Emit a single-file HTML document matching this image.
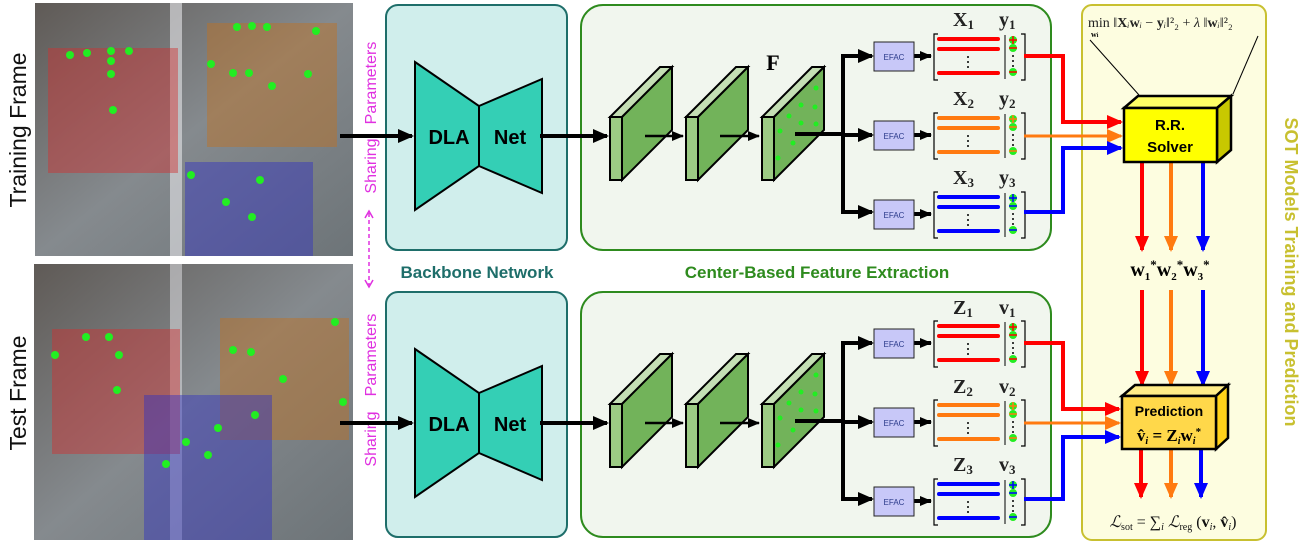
<!DOCTYPE html>
<html><head><meta charset="utf-8"><style>
html,body{margin:0;padding:0;background:#fff;}
svg{display:block;}
text{font-family:"Liberation Sans",sans-serif;}
.m,.m text,.m tspan{font-family:"Liberation Serif",serif;font-weight:bold;}
.mi,.mi tspan{font-family:"Liberation Serif",serif;}
</style></head><body>
<svg width="1304" height="547" viewBox="0 0 1304 547" xmlns="http://www.w3.org/2000/svg">
<defs>
<marker id="ab" markerWidth="16" markerHeight="14" refX="14" refY="7" orient="auto" markerUnits="userSpaceOnUse"><path d="M0,0 L16,7 L0,14 Z" fill="#000"/></marker>
<marker id="as" markerWidth="12" markerHeight="10" refX="11" refY="5" orient="auto" markerUnits="userSpaceOnUse"><path d="M0,0 L12,5 L0,10 Z" fill="#000"/></marker>
<marker id="ar" markerWidth="16" markerHeight="14" refX="14" refY="7" orient="auto" markerUnits="userSpaceOnUse"><path d="M0,0 L16,7 L0,14 Z" fill="#f00"/></marker>
<marker id="ao" markerWidth="16" markerHeight="14" refX="14" refY="7" orient="auto" markerUnits="userSpaceOnUse"><path d="M0,0 L16,7 L0,14 Z" fill="#ff7a10"/></marker>
<marker id="abl" markerWidth="16" markerHeight="14" refX="14" refY="7" orient="auto" markerUnits="userSpaceOnUse"><path d="M0,0 L16,7 L0,14 Z" fill="#0000ff"/></marker>
<linearGradient id="ph" x1="0" y1="0" x2="1" y2="1"><stop offset="0" stop-color="#5f5a56"/><stop offset="0.5" stop-color="#858a8e"/><stop offset="1" stop-color="#6d7478"/></linearGradient>
<g id="lay">
<polygon points="0,0 50,-50 62,-50 12,0" fill="#c4dfb4" stroke="#000" stroke-width="2"/>
<rect x="0" y="0" width="12" height="63" fill="#9ccb84" stroke="#000" stroke-width="2"/>
<polygon points="12,0 62,-50 62,13 12,63" fill="#72b35a" stroke="#000" stroke-width="2"/>
</g>
</defs>

<text transform="translate(26,130) rotate(-90)" text-anchor="middle" font-size="23" fill="#111">Training Frame</text>
<text transform="translate(26,393) rotate(-90)" text-anchor="middle" font-size="23" fill="#111">Test Frame</text>

<rect x="35" y="3" width="318" height="253" fill="url(#ph)"/>
<rect x="170" y="3" width="12" height="253" fill="#e6e6ea" opacity="0.6"/>
<rect x="48" y="48" width="130" height="125" fill="#d03030" opacity="0.45"/>
<rect x="207" y="23" width="130" height="124" fill="#c07020" opacity="0.45"/>
<rect x="185" y="162" width="128" height="94" fill="#3030c0" opacity="0.45"/>
<rect x="34" y="264" width="319" height="276" fill="url(#ph)"/>
<rect x="170" y="264" width="12" height="276" fill="#e6e6ea" opacity="0.5"/>
<rect x="52" y="329" width="128" height="125" fill="#d03030" opacity="0.45"/>
<rect x="220" y="318" width="129" height="122" fill="#c07020" opacity="0.45"/>
<rect x="144" y="395" width="128" height="145" fill="#3030c0" opacity="0.45"/>
<g fill="#22ee22">
<circle cx="70" cy="55" r="4"/><circle cx="87" cy="53" r="4"/><circle cx="111" cy="51" r="4"/><circle cx="111" cy="61" r="4"/><circle cx="111" cy="74" r="4"/><circle cx="129" cy="51" r="4"/><circle cx="113" cy="110" r="4"/>
<circle cx="237" cy="27" r="4"/><circle cx="252" cy="26" r="4"/><circle cx="267" cy="27" r="4"/><circle cx="316" cy="31" r="4"/><circle cx="211" cy="64" r="4"/><circle cx="233" cy="73" r="4"/><circle cx="249" cy="73" r="4"/><circle cx="272" cy="86" r="4"/><circle cx="308" cy="74" r="4"/>
<circle cx="191" cy="175" r="4"/><circle cx="260" cy="180" r="4"/><circle cx="226" cy="202" r="4"/><circle cx="252" cy="217" r="4"/>
<circle cx="55" cy="355" r="4"/><circle cx="86" cy="337" r="4"/><circle cx="109" cy="337" r="4"/><circle cx="119" cy="355" r="4"/><circle cx="117" cy="390" r="4"/>
<circle cx="335" cy="322" r="4"/><circle cx="233" cy="350" r="4"/><circle cx="251" cy="352" r="4"/><circle cx="283" cy="379" r="4"/><circle cx="343" cy="402" r="4"/><circle cx="255" cy="415" r="4"/>
<circle cx="218" cy="428" r="4"/><circle cx="186" cy="442" r="4"/><circle cx="208" cy="455" r="4"/><circle cx="166" cy="464" r="4"/>
</g>

<g font-size="16" fill="#e030e0" text-anchor="middle">
<text transform="translate(376,83) rotate(-90)">Parameters</text>
<text transform="translate(376,166) rotate(-90)">Sharing</text>
<text transform="translate(376,355) rotate(-90)">Parameters</text>
<text transform="translate(376,439) rotate(-90)">Sharing</text>
</g>
<line x1="369" y1="213" x2="369" y2="285" stroke="#e030e0" stroke-width="1.5" stroke-dasharray="4,3"/>
<path d="M365,218 L369,211 L373,218 M365,280 L369,287 L373,280" fill="none" stroke="#e030e0" stroke-width="1.5"/>

<rect x="386" y="5" width="181" height="245" rx="12" fill="#d0eeec" stroke="#1e6e6a" stroke-width="2"/>
<rect x="386" y="292" width="181" height="245" rx="12" fill="#d0eeec" stroke="#1e6e6a" stroke-width="2"/>
<text x="477" y="278" text-anchor="middle" font-size="17" font-weight="bold" fill="#1e6e6a">Backbone Network</text>
<g id="dla">
<polygon points="415,62 479,106 479,166 415,210" fill="#34cfb5" stroke="#000" stroke-width="2"/>
<polygon points="479,106 542,79 542,193 479,166" fill="#34cfb5" stroke="#000" stroke-width="2"/>
<text x="449" y="144" text-anchor="middle" font-size="20" font-weight="bold">DLA</text>
<text x="510" y="144" text-anchor="middle" font-size="20" font-weight="bold">Net</text>
</g>
<use href="#dla" transform="translate(0,287)"/>

<rect x="581" y="5" width="470" height="245" rx="22" fill="#f1f6ee" stroke="#2e8b1e" stroke-width="2"/>
<rect x="581" y="292" width="470" height="245" rx="22" fill="#f1f6ee" stroke="#2e8b1e" stroke-width="2"/>
<text x="817" y="278" text-anchor="middle" font-size="17" font-weight="bold" fill="#2e8b1e">Center-Based Feature Extraction</text>

<g stroke="#000" stroke-width="4" fill="none">
<line x1="340" y1="136" x2="412" y2="136" marker-end="url(#ab)"/>
<line x1="540" y1="136" x2="607" y2="136" marker-end="url(#ab)"/>
<line x1="340" y1="423" x2="412" y2="423" marker-end="url(#ab)"/>
<line x1="540" y1="423" x2="607" y2="423" marker-end="url(#ab)"/>
</g>

<g id="feat">
<use href="#lay" transform="translate(610,117)"/>
<use href="#lay" transform="translate(686,117)"/>
<use href="#lay" transform="translate(762,117)"/>
<g fill="#22ee22"><circle cx="816" cy="88" r="2.5"/><circle cx="801" cy="105" r="2.5"/><circle cx="815" cy="107" r="2.5"/><circle cx="789" cy="116" r="2.5"/><circle cx="801" cy="123" r="2.5"/><circle cx="816" cy="124" r="2.5"/><circle cx="780" cy="131" r="2.5"/><circle cx="793" cy="143" r="2.5"/><circle cx="778" cy="158" r="2.5"/></g>
<g stroke="#000" stroke-width="2.5" fill="none">
<line x1="645" y1="136" x2="683" y2="136" marker-end="url(#as)"/>
<line x1="720" y1="136" x2="759" y2="136" marker-end="url(#as)"/>
</g>
<g stroke="#000" stroke-width="4" fill="none">
<path d="M795,134 L843,134"/>
<path d="M843,56 L843,212"/>
<line x1="841" y1="56" x2="872" y2="56" marker-end="url(#ab)"/>
<line x1="841" y1="135" x2="872" y2="135" marker-end="url(#ab)"/>
<line x1="841" y1="212" x2="872" y2="212" marker-end="url(#ab)"/>
<line x1="914" y1="56" x2="931" y2="56" marker-end="url(#as)"/>
<line x1="914" y1="135" x2="931" y2="135" marker-end="url(#as)"/>
<line x1="914" y1="214" x2="931" y2="214" marker-end="url(#as)"/>
</g>
<g fill="#c8c8f8" stroke="#222" stroke-width="1">
<rect x="874" y="42" width="40" height="29"/><rect x="874" y="121" width="40" height="29"/><rect x="874" y="200" width="40" height="29"/>
</g>
<g font-size="8" fill="#2a3a8a" text-anchor="middle"><text x="894" y="60">EFAC</text><text x="894" y="139">EFAC</text><text x="894" y="218">EFAC</text></g>
</g>
<use href="#feat" transform="translate(0,287)"/>
<text x="773" y="70" text-anchor="middle" font-size="22" class="m">F</text>

<g font-size="20" class="m" fill="#222">
<text x="953" y="26">X<tspan font-size="13" dy="3" font-weight="normal">1</tspan></text>
<text x="999" y="26">y<tspan font-size="13" dy="3">1</tspan></text>
<text x="953" y="105">X<tspan font-size="13" dy="3" font-weight="normal">2</tspan></text>
<text x="999" y="105">y<tspan font-size="13" dy="3">2</tspan></text>
<text x="953" y="184">X<tspan font-size="13" dy="3" font-weight="normal">3</tspan></text>
<text x="999" y="184">y<tspan font-size="13" dy="3">3</tspan></text>
<text x="953" y="314">Z<tspan font-size="13" dy="3" font-weight="normal">1</tspan></text>
<text x="999" y="314">v<tspan font-size="13" dy="3">1</tspan></text>
<text x="953" y="393">Z<tspan font-size="13" dy="3" font-weight="normal">2</tspan></text>
<text x="999" y="393">v<tspan font-size="13" dy="3">2</tspan></text>
<text x="953" y="471">Z<tspan font-size="13" dy="3" font-weight="normal">3</tspan></text>
<text x="999" y="471">v<tspan font-size="13" dy="3">3</tspan></text>
</g>

<g id="m1">
<path d="M938,34 h-4 v46 h4 M1021,34 h4 v46 h-4" fill="none" stroke="#000" stroke-width="1.2"/>
<line x1="1005" y1="35" x2="1005" y2="79" stroke="#000" stroke-width="1"/>
<g stroke="#f00" stroke-width="4" stroke-linecap="round"><line x1="939" y1="39" x2="998" y2="39"/><line x1="939" y1="49" x2="998" y2="49"/><line x1="939" y1="73" x2="998" y2="73"/></g>
<g fill="#000"><circle cx="968" cy="57" r="1"/><circle cx="968" cy="62" r="1"/><circle cx="968" cy="67" r="1"/><circle cx="1013" cy="56" r="1"/><circle cx="1013" cy="61" r="1"/><circle cx="1013" cy="66" r="1"/></g>
<g fill="#22ee22"><circle cx="1013" cy="40" r="4"/><circle cx="1013" cy="48" r="4"/><circle cx="1013" cy="72" r="4"/></g>
<g stroke="#f00" stroke-width="1.5"><line x1="1009" y1="40" x2="1017" y2="40"/><line x1="1013" y1="36" x2="1013" y2="44"/><line x1="1009" y1="48" x2="1017" y2="48"/><line x1="1009" y1="72" x2="1017" y2="72"/></g>
</g>
<g id="m2" transform="translate(0,79)">
<path d="M938,34 h-4 v46 h4 M1021,34 h4 v46 h-4" fill="none" stroke="#000" stroke-width="1.2"/>
<line x1="1005" y1="35" x2="1005" y2="79" stroke="#000" stroke-width="1"/>
<g stroke="#ff7a10" stroke-width="4" stroke-linecap="round"><line x1="939" y1="39" x2="998" y2="39"/><line x1="939" y1="49" x2="998" y2="49"/><line x1="939" y1="73" x2="998" y2="73"/></g>
<g fill="#000"><circle cx="968" cy="57" r="1"/><circle cx="968" cy="62" r="1"/><circle cx="968" cy="67" r="1"/><circle cx="1013" cy="56" r="1"/><circle cx="1013" cy="61" r="1"/><circle cx="1013" cy="66" r="1"/></g>
<g fill="#22ee22"><circle cx="1013" cy="40" r="4"/><circle cx="1013" cy="48" r="4"/><circle cx="1013" cy="72" r="4"/></g>
<g stroke="#ff7a10" stroke-width="1.5"><line x1="1009" y1="40" x2="1017" y2="40"/><line x1="1013" y1="36" x2="1013" y2="44"/><line x1="1009" y1="48" x2="1017" y2="48"/><line x1="1009" y1="72" x2="1017" y2="72"/></g>
</g>
<g id="m3" transform="translate(0,158)">
<path d="M938,34 h-4 v46 h4 M1021,34 h4 v46 h-4" fill="none" stroke="#000" stroke-width="1.2"/>
<line x1="1005" y1="35" x2="1005" y2="79" stroke="#000" stroke-width="1"/>
<g stroke="#0000ff" stroke-width="4" stroke-linecap="round"><line x1="939" y1="39" x2="998" y2="39"/><line x1="939" y1="49" x2="998" y2="49"/><line x1="939" y1="73" x2="998" y2="73"/></g>
<g fill="#000"><circle cx="968" cy="57" r="1"/><circle cx="968" cy="62" r="1"/><circle cx="968" cy="67" r="1"/><circle cx="1013" cy="56" r="1"/><circle cx="1013" cy="61" r="1"/><circle cx="1013" cy="66" r="1"/></g>
<g fill="#22ee22"><circle cx="1013" cy="40" r="4"/><circle cx="1013" cy="48" r="4"/><circle cx="1013" cy="72" r="4"/></g>
<g stroke="#0000ff" stroke-width="1.5"><line x1="1009" y1="40" x2="1017" y2="40"/><line x1="1013" y1="36" x2="1013" y2="44"/><line x1="1009" y1="48" x2="1017" y2="48"/><line x1="1009" y1="72" x2="1017" y2="72"/></g>
</g>
<use href="#m1" transform="translate(0,287)"/>
<use href="#m2" transform="translate(0,287)"/>
<use href="#m3" transform="translate(0,287)"/>

<rect x="1082" y="5" width="184" height="535" rx="10" fill="#fdfde0" stroke="#c8c030" stroke-width="2"/>
<text transform="translate(1285,272) rotate(90)" text-anchor="middle" font-size="18" font-weight="bold" fill="#c8c030">SOT Models Training and Prediction</text>
<text x="1088" y="27" font-size="14" class="mi" fill="#222">min ‖<tspan font-weight="bold">X</tspan><tspan font-style="italic">ᵢ</tspan><tspan font-weight="bold">w</tspan><tspan font-style="italic">ᵢ</tspan> − <tspan font-weight="bold">y</tspan><tspan font-style="italic">ᵢ</tspan>‖²₂ + <tspan font-style="italic">λ</tspan> ‖<tspan font-weight="bold">w</tspan><tspan font-style="italic">ᵢ</tspan>‖²₂</text>
<text x="1091" y="37" font-size="8" class="m">w<tspan font-size="6">i</tspan></text>
<line x1="1090" y1="40" x2="1139" y2="95" stroke="#000" stroke-width="1"/>
<line x1="1258" y1="36" x2="1233" y2="94" stroke="#000" stroke-width="1"/>

<g fill="none" stroke-width="4">
<path d="M1024,56 H1063 V122 H1121" stroke="#f00" marker-end="url(#ar)"/>
<path d="M1024,136 H1121" stroke="#ff7a10" stroke-width="3" marker-end="url(#ao)"/>
<path d="M1024,212 H1063 V148 H1121" stroke="#0000ff" marker-end="url(#abl)"/>
<path d="M1024,343 H1063 V409 H1119" stroke="#f00" marker-end="url(#ar)"/>
<path d="M1024,423 H1119" stroke="#ff7a10" stroke-width="3" marker-end="url(#ao)"/>
<path d="M1024,499 H1063 V437 H1119" stroke="#0000ff" marker-end="url(#abl)"/>
<line x1="1142" y1="162" x2="1142" y2="250" stroke="#f00" marker-end="url(#ar)"/>
<line x1="1171" y1="162" x2="1171" y2="250" stroke="#ff7a10" marker-end="url(#ao)"/>
<line x1="1203" y1="162" x2="1203" y2="250" stroke="#0000ff" marker-end="url(#abl)"/>
<line x1="1142" y1="290" x2="1142" y2="385" stroke="#f00" marker-end="url(#ar)"/>
<line x1="1171" y1="290" x2="1171" y2="385" stroke="#ff7a10" marker-end="url(#ao)"/>
<line x1="1203" y1="290" x2="1203" y2="385" stroke="#0000ff" marker-end="url(#abl)"/>
<line x1="1141" y1="449" x2="1141" y2="497" stroke="#f00" marker-end="url(#ar)"/>
<line x1="1171" y1="449" x2="1171" y2="497" stroke="#ff7a10" marker-end="url(#ao)"/>
<line x1="1201" y1="449" x2="1201" y2="497" stroke="#0000ff" marker-end="url(#abl)"/>
</g>

<g stroke="#000" stroke-width="2.5">
<polygon points="1124,108 1138,96 1231,96 1217,108" fill="#ffff66"/>
<polygon points="1217,108 1231,96 1231,150 1217,162" fill="#c8c800"/>
<rect x="1124" y="108" width="93" height="54" fill="#ffff00"/>
</g>
<text x="1170" y="130" text-anchor="middle" font-size="15" font-weight="bold">R.R.</text>
<text x="1170" y="152" text-anchor="middle" font-size="15" font-weight="bold">Solver</text>

<text x="1170" y="276" text-anchor="middle" font-size="20" class="m">w<tspan font-size="11" dy="4">1</tspan><tspan font-size="13" dy="-11">*</tspan><tspan dy="7">w</tspan><tspan font-size="11" dy="4">2</tspan><tspan font-size="13" dy="-11">*</tspan><tspan dy="7">w</tspan><tspan font-size="11" dy="4">3</tspan><tspan font-size="13" dy="-11">*</tspan></text>

<g stroke="#000" stroke-width="2.5">
<polygon points="1122,396 1135,385 1228,385 1216,396" fill="#ffec88"/>
<polygon points="1216,396 1228,385 1228,438 1216,449" fill="#ffd21a"/>
<rect x="1122" y="396" width="94" height="53" fill="#ffd84a"/>
</g>
<text x="1169" y="416" text-anchor="middle" font-size="14" font-weight="bold">Prediction</text>
<text x="1169" y="441" text-anchor="middle" font-size="17" class="m">v̂<tspan font-size="10" font-style="italic" dy="3">i</tspan><tspan dy="-3" font-weight="normal"> = </tspan>Z<tspan font-size="10" font-style="italic" dy="3">i</tspan><tspan dy="-3">w</tspan><tspan font-size="10" font-style="italic" dy="3">i</tspan><tspan font-size="11" dy="-9">*</tspan></text>

<text x="1173" y="527" text-anchor="middle" font-size="16" class="mi" fill="#111"><tspan font-style="italic">ℒ</tspan><tspan font-size="10" dy="3">sot</tspan><tspan dy="-3"> = ∑</tspan><tspan font-size="10" font-style="italic" dy="3">i</tspan><tspan dy="-3" font-style="italic"> ℒ</tspan><tspan font-size="10" dy="3">reg</tspan><tspan dy="-3"> (</tspan><tspan font-weight="bold">v</tspan><tspan font-size="10" font-style="italic" dy="3">i</tspan><tspan dy="-3">, </tspan><tspan font-weight="bold">v̂</tspan><tspan font-size="10" font-style="italic" dy="3">i</tspan><tspan dy="-3">)</tspan></text>
</svg>
</body></html>
